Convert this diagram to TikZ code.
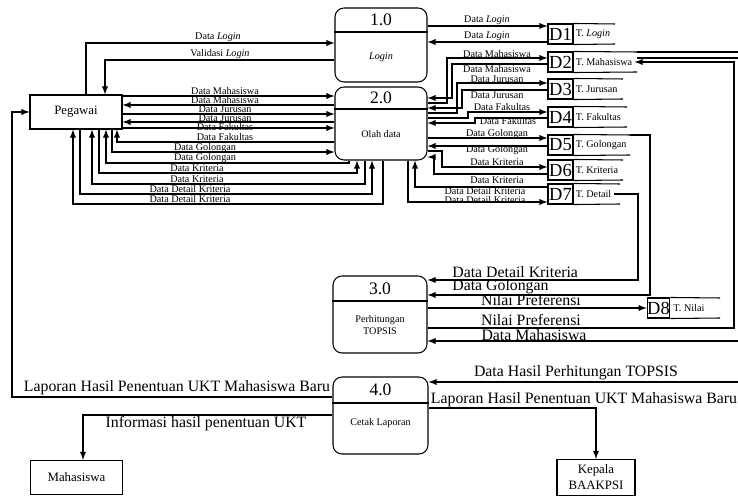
\documentclass[tikz,border=0pt]{standalone}
\usepackage{fontspec}
\setmainfont{Liberation Serif}
\usepackage{tikz}
\usetikzlibrary{calc, positioning}

\begin{document}
\begin{tikzpicture}[>=latex, x=0.02cm, y=-0.02cm, line width=0.6pt,
    entity/.style={draw, minimum width=1.84cm, minimum height=0.68cm, inner sep=0pt, align=center, font=\fontsize{7.3}{9}\selectfont},
    proc/.style={draw, rounded corners=0.18cm, minimum width=1.84cm, minimum height=1.48cm, inner sep=0pt},
    store/.style={draw, minimum width=0.5cm, minimum height=0.4cm, inner sep=0pt, font=\fontsize{10.5}{10.5}\selectfont},
    num/.style={font=\fontsize{10}{10}\selectfont, inner sep=0pt},
    lbl/.style={font=\fontsize{5.8}{7}\selectfont, inner sep=0.5pt},
    big/.style={font=\fontsize{9}{9}\selectfont, inner sep=0.5pt}]
    \useasboundingbox (0,0) rectangle (738,496);

    % Entitas luar
    \node[entity] (peg) at (76,112) {Pegawai};
    \node[entity] (mhs) at (76.5,477.5) {Mahasiswa};
    \node[entity, minimum width=1.56cm, minimum height=0.72cm] (kep) at (596,477.5) {Kepala\\BAAKPSI};

    % Proses
    \node[proc] (p1) at (381,45) {};
    \node[proc, minimum height=1.46cm] (p2) at (381,123.5) {};
    \node[proc, minimum width=1.88cm, minimum height=1.54cm] (p3) at (380,314.5) {};
    \node[proc, minimum width=1.9cm, minimum height=1.54cm] (p4) at (380.5,415.5) {};
    \draw (p1.west |- 0,32) -- (p1.east |- 0,32);
    \draw (p2.west |- 0,109) -- (p2.east |- 0,109);
    \draw (p3.west |- 0,301) -- (p3.east |- 0,301);
    \draw (p4.west |- 0,403) -- (p4.east |- 0,403);
    \node[num] (n1) at (381,20) {1.0};
    \node[lbl] (t1) at (381,57) {\textit{Login}};
    \node[num] (n2) at (381,98) {2.0};
    \node[lbl] (t2) at (381,134) {Olah data};
    \node[num] (n3) at (380,289) {3.0};
    \node[lbl, align=center] (t3) at (380,325) {Perhitungan\\TOPSIS};
    \node[num] (n4) at (380.5,390) {4.0};
    \node[lbl] (t4) at (380.5,423) {Cetak Laporan};

    % Data store
    \foreach \i/\y/\e/\txt in {1/24/615/T. \textit{Login}, 2/52/637/T. Mahasiswa, 3/79/623/T. Jurusan, 4/107/627/T. Fakultas, 5/135/630/T. Golongan, 6/160/623/T. Kriteria, 7/184/620/T. Detail}{
        \node[store] (d\i) at (560.5,\y+10) {D\i};
        \draw (d\i.north east) -- (\e,\y) coordinate (e\i);
        \draw (d\i.south east) -- (\e,\y+20);
        \node[lbl, anchor=west, inner sep=1pt] (s\i) at (d\i.east) {\txt};
    }
    \node[store, minimum width=0.42cm] (d8) at (658.5,308) {D8};
    \draw (d8.north east) -- (720,298);
    \draw (d8.south east) -- (720,318);
    \node[lbl, anchor=west, inner sep=1.5pt] (s8) at (d8.east) {T. Nilai};

    % Pegawai - 1.0
    \draw[->] (peg.north -| 86,0) |- (p1.west |- 0,43);
    \draw[->] (p1.west |- 0,60) -| (peg.north -| 105,0);
    \node[lbl] (la1) at (218,37) {Data \textit{Login}};
    \node[lbl] (la2) at (220,54) {Validasi \textit{Login}};

    % 1.0 - D1
    \draw[->] (p1.east |- 0,26) -- (d1.west |- 0,26);
    \draw[->] (d1.west |- 0,42) -- (p1.east |- 0,42);
    \node[lbl] (lb1) at (487,20) {Data \textit{Login}};
    \node[lbl] (lb2) at (487,36) {Data \textit{Login}};

    % Pegawai - 2.0
    \draw[->] (peg.east |- 0,96) -- (p2.west |- 0,96);
    \draw[->] (p2.west |- 0,105) -- (peg.east |- 0,105);
    \draw[->] (peg.east |- 0,114) -- (p2.west |- 0,114);
    \draw[->] (p2.west |- 0,122) -- (peg.east |- 0,122);
    \draw[->] (peg.east |- 0,128) -- (p2.west |- 0,128);
    \draw[->] (p2.west |- 0,142) -| (peg.south -| 117,0);
    \draw[->] (peg.south -| 112,0) |- (p2.west |- 0,152);
    \draw[->] (p2.south -| 349,0) |- (106,163) -- (peg.south -| 106,0);
    \draw[->] (peg.south -| 99,0) |- (357,173) -- (p2.south -| 357,0);
    \draw[->] (p2.south -| 365,0) |- (92,184) -- (peg.south -| 92,0);
    \draw[->] (peg.south -| 80,0) |- (372,194) -- (p2.south -| 372,0);
    \draw[->] (p2.south -| 383,0) |- (73,204) -- (peg.south -| 73,0);
    \node[lbl] (lc1) at (225,91) {Data Mahasiswa};
    \node[lbl] (lc2) at (225,100) {Data Mahasiswa};
    \node[lbl] (lc3) at (225,109) {Data Jurusan};
    \node[lbl] (lc4) at (225,118) {Data Jurusan};
    \node[lbl] (lc5) at (225,127) {Data Fakultas};
    \node[lbl] (lc6) at (225,137) {Data Fakultas};
    \node[lbl] (lc7) at (205,148) {Data Golongan};
    \node[lbl] (lc8) at (205,158) {Data Golongan};
    \node[lbl] (lc9) at (197,168) {Data Kriteria};
    \node[lbl] (lc10) at (197,179) {Data Kriteria};
    \node[lbl] (lc11) at (190,189) {Data Detail Kriteria};
    \node[lbl] (lc12) at (190,199) {Data Detail Kriteria};

    % 2.0 - data store
    \draw[->] (p2.east |- 0,103) -| (447,58) -- (d2.west |- 0,58);
    \draw[->] (d2.west |- 0,64) -| (452,98) -- (p2.east |- 0,98);
    \draw[->] (p2.east |- 0,113) -| (457,83) -- (d3.west |- 0,83);
    \draw[->] (d3.west |- 0,90) -| (462,108) -- (p2.east |- 0,108);
    \draw[->] (p2.east |- 0,118) -| (468,112) -- (d4.west |- 0,112);
    \draw[->] (d4.west |- 0,118) -| (475,123) -- (p2.east |- 0,123);
    \draw[->] (p2.east |- 0,138) -- (d5.west |- 0,138);
    \draw[->] (d5.west |- 0,146) -- (p2.east |- 0,146);
    \draw[->] (p2.east |- 0,151) -| (442,167) -- (d6.west |- 0,167);
    \draw[->] (d6.west |- 0,174) -| (434,157) -- (p2.east |- 0,157);
    \draw[->] (d7.west |- 0,187) -| (p2.south -| 415,0);
    \draw[->] (p2.south -| 408,0) |- (d7.west |- 0,202);
    \node[lbl] (ld1) at (497,54) {Data Mahasiswa};
    \node[lbl] (ld2) at (497,69) {Data Mahasiswa};
    \node[lbl] (ld3) at (497,79) {Data Jurusan};
    \node[lbl] (ld4) at (497,95) {Data Jurusan};
    \node[lbl] (ld5) at (502,107) {Data Fakultas};
    \node[lbl] (ld6) at (508,121) {Data Fakultas};
    \node[lbl] (ld7) at (497,134) {Data Golongan};
    \node[lbl] (ld8) at (497,150) {Data Golongan};
    \node[lbl] (ld9) at (497,162) {Data Kriteria};
    \node[lbl] (ld10) at (497,180) {Data Kriteria};
    \node[lbl] (ld11) at (485,191) {Data Detail Kriteria};
    \node[lbl] (ld12) at (485,200) {Data Detail Kriteria};

    % 3.0
    \draw[->] (s7.east) -- (s7.east -| 638,0) |- (p3.east |- 0,280);
    \draw[->] (e5) -- (e5 -| 650,0) |- (p3.east |- 0,295);
    \draw[->] (p3.east |- 0,308) -- (d8.west |- 0,308);
    \draw[->] (p3.east |- 0,328) -| (s2.east -| 734,0) -- (s2.east);
    \draw (e2) -- (e2 -| 738,0);
    \draw (e2 |- 0,58) -- (738,58);
    \coordinate (rm) at (738,341);
    \draw[->] (rm) -- (p3.east |- rm);
    \node[big, anchor=west] (le1) at (451,272) {Data Detail Kriteria};
    \node[big, anchor=west] (le2) at (451,287) {Data Golongan};
    \node[big] (le3) at (531,300) {Nilai Preferensi};
    \node[big] (le4) at (531,320) {Nilai Preferensi};
    \node[big] (le5) at (534,335) {Data Mahasiswa};

    % 4.0
    \coordinate (rt) at (738,382);
    \draw[->] (rt) -- (p4.east |- rt);
    \draw[->] (p4.east |- 0,408) -| (kep.north);
    \draw[->] (p4.west |- 0,397) -| (peg.west -| 12,0) -- (peg.west);
    \draw[->] (p4.west |- 0,415) -| (mhs.north -| 83,0);
    \node[big] (lf1) at (576,373) {Data Hasil Perhitungan TOPSIS};
    \node[big] (lf2) at (584,400) {Laporan Hasil Penentuan UKT Mahasiswa Baru};
    \node[big] (lf3) at (177,388) {Laporan Hasil Penentuan UKT Mahasiswa Baru};
    \node[big] (lf4) at (206,424) {Informasi hasil penentuan UKT};
\end{tikzpicture}
\end{document}
